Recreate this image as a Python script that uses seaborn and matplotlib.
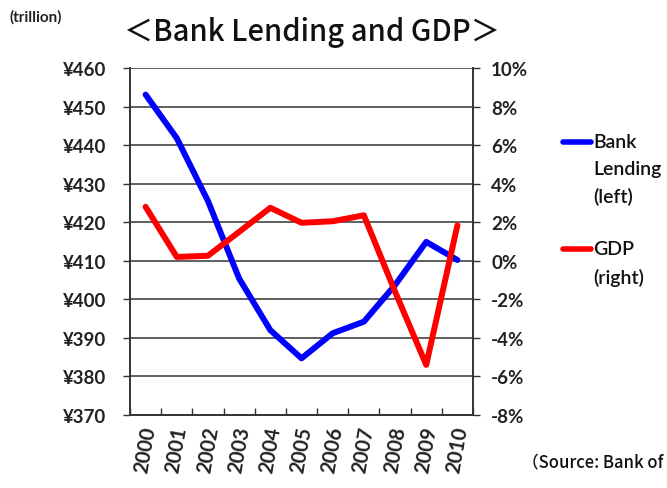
import matplotlib
matplotlib.use("Agg")
import matplotlib.pyplot as plt
import seaborn as sns
import pandas as pd
from matplotlib.lines import Line2D
from matplotlib.ticker import FixedLocator

years = ["2000", "2001", "2002", "2003", "2004", "2005", "2006", "2007", "2008", "2009", "2010"]
bank_lending = [453.1, 441.8, 425.5, 405.4, 392.0, 384.7, 391.2, 394.2, 403.7, 414.9, 410.2]
gdp = [2.8, 0.2, 0.26, 1.5, 2.75, 1.97, 2.05, 2.36, -1.6, -5.4, 1.84]
left_ticks = [370, 380, 390, 400, 410, 420, 430, 440, 450, 460]
right_ticks = [-8, -6, -4, -2, 0, 2, 4, 6, 8, 10]

sns.set_style("white")
plt.rcParams['font.family'] = ['Lato', 'Noto Sans CJK JP', 'DejaVu Sans']

df = pd.DataFrame({"pos": range(len(years)), "year": years,
                   "bank": bank_lending, "gdp": gdp})

fig = plt.figure(figsize=(6.67, 4.89), dpi=100)
ax = fig.add_axes([130/667, 1-416/489, 343/667, 347/489])
ax2 = ax.twinx()

sns.lineplot(data=df, x="pos", y="bank", ax=ax, color="#0000ff", lw=4.3, legend=False)
sns.lineplot(data=df, x="pos", y="gdp", ax=ax2, color="#ff0000", lw=4.3, legend=False)

ax.set_xlim(-0.5, len(years) - 0.5)
ax.set_ylim(370, 460)
ax2.set_ylim(-8, 10)
ax.set_yticks(left_ticks)
ax.set_yticklabels([f"¥{v}" for v in left_ticks], fontsize=13.5, fontweight="bold", color="#222222")
ax2.set_yticks(right_ticks)
ax2.set_yticklabels([f"{v}%" for v in right_ticks], fontsize=13.5, fontweight="bold", color="#222222")

ax.set_xticks(range(len(years)))
ax.set_xticklabels(years, rotation=80, fontsize=14.5, fontweight="bold", color="#222222")
ax.xaxis.set_minor_locator(FixedLocator([i - 0.5 for i in range(len(years) + 1)]))
ax.tick_params(axis="x", which="major", length=0, pad=7)
ax.tick_params(axis="x", which="minor", direction="in", length=5, width=1, color="#333333", bottom=True)
ax.tick_params(axis="y", direction="out", length=5, width=1, color="#333333", left=True, pad=12)
ax2.tick_params(axis="y", direction="out", length=5, width=1, color="#333333", right=True, pad=8)
ax.set_xlabel("")
ax.set_ylabel("")
ax2.set_ylabel("")

ax.yaxis.grid(True, color="#444444", lw=1.2)
ax.set_axisbelow(True)
for a in (ax, ax2):
    a.spines["top"].set_visible(False)
    for s in ("left", "right", "bottom"):
        a.spines[s].set_color("#333333")
        a.spines[s].set_linewidth(1.2)

fig.text(10/667, 1-17/489, "(trillion)", fontsize=11, fontweight="bold", color="#222222",
         va="center", ha="left")
fig.text(312/667, 1-33/489, "＜Bank Lending and GDP＞", fontsize=21, fontweight="medium",
         color="#111111", va="center", ha="center", family=['Noto Sans CJK JP', 'DejaVu Sans'])
fig.text(522/667, 1-462/489, "（Source: Bank of", fontsize=12, fontweight="medium", color="#111111",
         va="center", ha="left", family=['Noto Sans CJK JP', 'DejaVu Sans'])

# legend
fig.add_artist(Line2D([563/667, 591/667], [1-143/489, 1-143/489], color="#0000ff", lw=4))
fig.add_artist(Line2D([563/667, 591/667], [1-250/489, 1-250/489], color="#ff0000", lw=4))
legend_lines = [("Bank", 143), ("Lending", 170), ("(left)", 197), ("GDP", 250), ("(right)", 278)]
for txt, yy in legend_lines:
    fig.text(593/667, 1-yy/489, txt, fontsize=14, fontweight="semibold", color="#111111",
             va="center", ha="left")

fig.savefig("out.png", dpi=100)
